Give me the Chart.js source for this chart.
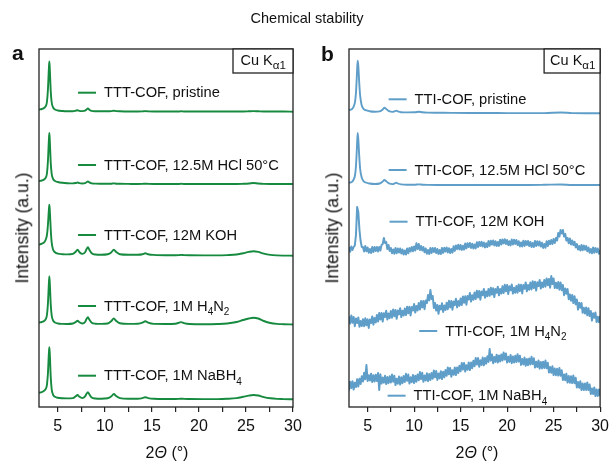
<!DOCTYPE html>
<html>
<head>
<meta charset="utf-8">
<script src="https://cdn.jsdelivr.net/npm/chart.js@4.4.1/dist/chart.umd.min.js"></script>
<style>
  body { margin: 0; background: #fff; font-family: "Liberation Sans", Arial, sans-serif; color: #111; }
  #wrap { position: relative; width: 614px; height: 461px; overflow: hidden; }
  #wrap canvas { position: absolute; top: 0; }
  .txt { position: absolute; line-height: 1; white-space: nowrap; transform: translate(-50%, -50%); }
  .ytitle { font-size: 17.5px; transform: translate(-50%, -50%) rotate(-90deg); }
  .xtitle { font-size: 16px; }
  .letter { position: absolute; font-size: 21px; font-weight: bold; line-height: 1; }
</style>
</head>
<body>
<div id="wrap">
  <canvas id="chart-a" width="307" height="461" style="left:0"></canvas>
  <canvas id="chart-b" width="307" height="461" style="left:307px"></canvas>
  <div class="txt" style="left:307px;top:18px;font-size:14.5px">Chemical stability</div>
  <div class="letter" style="left:12px;top:42px">a</div>
  <div class="letter" style="left:321px;top:43px">b</div>
  <div class="txt ytitle" style="left:22.5px;top:228px">Intensity (a.u.)</div>
  <div class="txt ytitle" style="left:332.5px;top:228px">Intensity (a.u.)</div>
  <div class="txt xtitle" style="left:167px;top:453px">2<i>Θ</i> (°)</div>
  <div class="txt xtitle" style="left:477px;top:453px">2<i>Θ</i> (°)</div>
</div>
<script>
const GREEN = '#168a3e';
const BLUE  = '#5f9ec8';
const FONT  = '"Liberation Sans", Arial, sans-serif';

const TICKS_X = [5, 7.5, 10, 12.5, 15, 17.5, 20, 22.5, 25, 27.5, 30];

// panel a: TTT-COF, intensity above each trace's own baseline
const LABELS_A = ['TTT-COF, pristine', 'TTT-COF, 12.5M HCl 50°C', 'TTT-COF, 12M KOH', 'TTT-COF, 1M H_4N_2', 'TTT-COF, 1M NaBH_4'];
const OFFSET_A = [295.5, 223, 151.3, 82.5, 7.7];
const X_A = [3, 3.3, 3.6, 3.75, 3.85, 3.95, 4.05, 4.1, 4.15, 4.25,
  4.35, 4.5, 4.7, 5, 5.5, 6, 6.6, 6.9, 7.1, 7.3,
  7.6, 7.9, 8.05, 8.2, 8.35, 8.6, 9, 9.6, 10.3, 10.7,
  10.95, 11.2, 11.6, 12.5, 13.5, 14, 14.3, 14.6, 15.2, 16.5,
  17.5, 17.9, 18.1, 18.4, 19, 20.5, 22, 23, 24, 24.7,
  25.3, 25.8, 26.3, 26.9, 27.6, 28.3, 29, 30];
const A_PRISTINE = [2, 2.5, 4, 6, 10, 22, 43, 50, 42, 20,
  9, 4, 2, 1, 0.5, 0.3, 0.3, 0.8, 1.2, 0.6,
  0.4, 0.8, 2, 3, 1.8, 0.6, 0.3, 0.2, 0.2, 0.4,
  0.8, 0.4, 0.2, 0, 0, 0.1, 0.4, 0.1, 0, 0,
  0, 0, 0.2, 0, 0, 0, 0, 0, 0, 0,
  0.2, 0.4, 0.2, 0, 0, 0, 0, -0.2];
const A_HCL = [3, 3.5, 5, 7, 11, 23, 44, 51, 43, 21,
  10, 5, 3, 2, 1.2, 0.8, 0.6, 1, 1.5, 0.8,
  0.5, 0.8, 1.8, 2.6, 1.6, 0.6, 0.4, 0.3, 0.2, 0.3,
  0.6, 0.3, 0.2, 0.1, 0, 0.1, 0.3, 0.1, 0, 0,
  0, 0, 0.2, 0, 0, 0, 0, 0, 0, 0.2,
  0.5, 1, 0.5, 0.1, 0, 0, 0, 0];
const A_KOH = [11, 12, 14, 17, 21, 31, 46, 51, 45, 26,
  13, 6, 3.5, 2, 1.5, 1.3, 1.8, 4, 6, 3.5,
  1.8, 3.5, 6.5, 8.4, 6, 2.5, 1.2, 1, 1.5, 3.5,
  6, 3.8, 1.5, 1, 1, 1.5, 2.4, 1.5, 0.8, 0.5,
  0.5, 0.6, 0.8, 0.6, 0.4, 0.3, 0.3, 0.6, 1.2, 2.4,
  3.8, 4.5, 3.8, 2, 0.8, 0.3, 0.1, 0];
const A_H4N2 = [2, 2.5, 4, 6, 10, 21, 41, 48, 41, 20,
  9, 4, 2, 1, 0.6, 0.5, 1, 2.5, 3.8, 2.2,
  1, 2.5, 5.5, 7.2, 5, 1.8, 0.8, 0.6, 1, 3.5,
  6, 3.6, 1.2, 0.6, 0.8, 1.8, 3.2, 1.8, 0.6, 0.5,
  0.8, 1.8, 2.4, 1.4, 0.5, 0.3, 0.5, 1, 2.5, 4.5,
  6, 6.7, 6, 3.5, 1.5, 0.6, 0.3, 0];
const A_NABH4 = [6.6, 7.2, 9, 11, 15, 26, 46, 52, 45, 22,
  10, 4.5, 2.5, 1.5, 1, 0.9, 1.2, 3, 4.3, 2.5,
  1.2, 3, 5.5, 7, 5, 1.8, 0.8, 0.6, 1, 3,
  5.3, 3.2, 1.2, 0.6, 0.6, 1.2, 2, 1.2, 0.5, 0.3,
  0.3, 0.4, 0.6, 0.4, 0.3, 0.2, 0.2, 0.5, 1.2, 2.5,
  3.7, 4.3, 3.8, 2.2, 1, 0.4, 0.2, 0];

// panel b: TTI-COF
const LABELS_B = ['TTI-COF, pristine', 'TTI-COF, 12.5M HCl 50°C', 'TTI-COF, 12M KOH', 'TTI-COF, 1M H_4N_2', 'TTI-COF, 1M NaBH_4'];
const OFFSET_B = [294.3, 222, 152, 82, 8];
const X_B = [3, 3.3, 3.5, 3.65, 3.75, 3.85, 3.93, 4, 4.1, 4.2,
  4.35, 4.55, 4.8, 5.2, 5.8, 6.3, 6.6, 6.8, 7, 7.3,
  7.7, 7.95, 8.1, 8.25, 8.6, 9.3, 10.1, 10.5, 10.9, 11.5,
  12.5, 14, 16, 18, 20, 22, 24, 25.8, 27, 28.5, 30];
const B_PRISTINE = [2.7, 3.5, 6, 11, 20, 38, 52, 47, 30, 17,
  8, 4, 2.5, 1.5, 1, 1.3, 3, 5, 3.8, 1.5,
  0.8, 1.5, 2, 1.3, 0.5, 0.3, 0.4, 1, 0.4, 0.1,
  0, -0.2, -0.3, -0.3, -0.4, -0.4, -0.4, 0.2, -0.4, -0.5, -0.5];
const B_HCL = [2.3, 3, 5.5, 10, 19, 37, 52, 46, 29, 16,
  8, 4, 2.5, 1.5, 1, 1.5, 3.2, 5, 3.8, 1.6,
  0.9, 1.8, 2.3, 1.5, 0.6, 0.3, 0.3, 0.6, 0.3, 0.1,
  0, 0, 0, 0, 0, 0, 0.2, 0.5, 0, 0, 0];

// noisy scans, one row per degree
const X_DENSE_B = [
  3, 3.125, 3.25, 3.375, 3.5, 3.625, 3.75, 3.875,
  4, 4.125, 4.25, 4.375, 4.5, 4.625, 4.75, 4.875,
  5, 5.125, 5.25, 5.375, 5.5, 5.625, 5.75, 5.875,
  6, 6.125, 6.25, 6.375, 6.5, 6.625, 6.75, 6.875,
  7, 7.125, 7.25, 7.375, 7.5, 7.625, 7.75, 7.875,
  8, 8.125, 8.25, 8.375, 8.5, 8.625, 8.75, 8.875,
  9, 9.125, 9.25, 9.375, 9.5, 9.625, 9.75, 9.875,
  10, 10.125, 10.25, 10.375, 10.5, 10.625, 10.75, 10.875,
  11, 11.125, 11.25, 11.375, 11.5, 11.625, 11.75, 11.875,
  12, 12.125, 12.25, 12.375, 12.5, 12.625, 12.75, 12.875,
  13, 13.125, 13.25, 13.375, 13.5, 13.625, 13.75, 13.875,
  14, 14.125, 14.25, 14.375, 14.5, 14.625, 14.75, 14.875,
  15, 15.125, 15.25, 15.375, 15.5, 15.625, 15.75, 15.875,
  16, 16.125, 16.25, 16.375, 16.5, 16.625, 16.75, 16.875,
  17, 17.125, 17.25, 17.375, 17.5, 17.625, 17.75, 17.875,
  18, 18.125, 18.25, 18.375, 18.5, 18.625, 18.75, 18.875,
  19, 19.125, 19.25, 19.375, 19.5, 19.625, 19.75, 19.875,
  20, 20.125, 20.25, 20.375, 20.5, 20.625, 20.75, 20.875,
  21, 21.125, 21.25, 21.375, 21.5, 21.625, 21.75, 21.875,
  22, 22.125, 22.25, 22.375, 22.5, 22.625, 22.75, 22.875,
  23, 23.125, 23.25, 23.375, 23.5, 23.625, 23.75, 23.875,
  24, 24.125, 24.25, 24.375, 24.5, 24.625, 24.75, 24.875,
  25, 25.125, 25.25, 25.375, 25.5, 25.625, 25.75, 25.875,
  26, 26.125, 26.25, 26.375, 26.5, 26.625, 26.75, 26.875,
  27, 27.125, 27.25, 27.375, 27.5, 27.625, 27.75, 27.875,
  28, 28.125, 28.25, 28.375, 28.5, 28.625, 28.75, 28.875,
  29, 29.125, 29.25, 29.375, 29.5, 29.625, 29.75, 29.875,
  30];
const B_KOH = [
  8, 3.2, 8.5, 5, 8, 9.5, 20, 48,
  43, 25, 14, 8, 8, 3.5, 9, 3.7,
  7.5, 2.2, 6, 2, 8, 3, 8, 4,
  8, 3.5, 8, 4.5, 10, 11, 17, 12,
  13, 6, 10, 4, 7, 1.8, 5.5, 1.2,
  7, 1.8, 6.5, 2.5, 6.5, 1.5, 5.5, 0.5,
  4.5, 0.5, 6.5, 1.8, 7, 3.5, 8, 3.8,
  8.5, 4.5, 11.8, 6, 11, 5, 9, 4.5,
  8, 2.8, 6.5, 1.3, 5, 1, 7, 2,
  7, 3, 7, 2, 6, 1, 5, 1,
  7, 2.1, 7.3, 3.4, 7.5, 2.6, 6.8, 1.9,
  6, 2.4, 8.8, 4.1, 9.5, 5.9, 10.3, 5.6,
  10, 5.1, 9.3, 5.4, 11.5, 6.6, 11.8, 7.9,
  12, 7.1, 11.3, 6.4, 10.5, 6.6, 12.8, 7.9,
  13, 9.1, 13.3, 8.4, 12.5, 7.6, 11.8, 7.9,
  14, 9.1, 14.3, 10.4, 14.5, 9.6, 13.8, 8.9,
  13, 9.1, 15.3, 10.4, 15.5, 11.6, 15.8, 10.9,
  15, 9.9, 13.8, 9.6, 15.5, 10.4, 15.3, 11.1,
  15, 9.9, 13.8, 8.6, 12.5, 8.4, 14.3, 9.1,
  14, 10, 14, 9, 13, 8, 12, 8,
  14, 8.9, 13.8, 9.6, 13.5, 8.4, 12.3, 7.1,
  11, 7.3, 13.7, 9, 14.3, 10.7, 15, 11,
  16, 12, 17, 14.5, 22, 18.5, 25, 21.5,
  25, 18.5, 21, 14.5, 17, 11.8, 16.5, 10.5,
  14.5, 9.9, 13.3, 7.6, 11, 5.5, 9, 4.5,
  10, 4.8, 9.5, 5.3, 9, 3.8, 7.5, 2.3,
  6, 1.8, 7.5, 2.3, 7, 2.8, 6.5, 1.3,
  5];
const B_H4N2 = [
  8.5, 1.5, 9.5, 2.3, 8, -1.2, 6.5, 2,
  7.5, -1.7, 4, -1.1, 5.8, -1.2, 6.7, -0.3,
  5.7, -2.9, 5.5, 2, 8.5, 0.3, 7, 2.5,
  10, 3.5, 12, 5.5, 12, 3.4, 11.8, 8,
  14.2, 5.4, 11.6, 6.8, 14, 7.3, 15.5, 8.8,
  15, 6.2, 14.4, 10.6, 16.8, 8, 14.2, 9.4,
  16.5, 9.9, 18.3, 11.8, 18.2, 9.6, 18, 14.5,
  21, 12.5, 19, 14.5, 22, 15.5, 24, 17.5,
  24, 15.8, 24.5, 22, 30, 24.5, 35, 26,
  29, 17, 22, 14.5, 20, 11.2, 19.3, 15.5,
  21.7, 13.1, 19.5, 14.9, 22.3, 15.8, 24.2, 17.6,
  24, 15.3, 23.6, 19.9, 26.2, 17.6, 23.9, 19.2,
  26.5, 20, 28.6, 22.2, 28.8, 20.3, 28.9, 25.5,
  32, 23.4, 29.8, 25.2, 32.5, 25.9, 34.3, 27.6,
  34, 25.3, 33.5, 29.8, 36, 27.3, 33.5, 28.8,
  36, 29.2, 37.3, 30.5, 36.7, 27.9, 36, 32.2,
  38.3, 29.7, 36, 31.4, 38.7, 32, 40.3, 33.7,
  40, 30.9, 38.8, 34.7, 40.5, 31.4, 37.3, 32.2,
  39, 32.3, 40.6, 34, 40.3, 31.6, 39.9, 36.2,
  42.5, 33.7, 39.9, 35.2, 42.4, 35.6, 43.8, 37,
  43.2, 34.5, 42.7, 38.9, 45.1, 36.4, 42.6, 37.8,
  45, 38.3, 46.5, 39.8, 46, 37.3, 49, 41,
  46.5, 36.9, 42.3, 36.7, 43, 35.3, 42.5, 34.8,
  40, 29.8, 36.5, 31.3, 36, 25.8, 30.5, 24.3,
  30, 21.9, 28.8, 20.7, 25.5, 15.4, 22.3, 17.2,
  22, 12.2, 17.3, 11.4, 17.5, 9.7, 16.8, 8.9,
  14, 4.4, 11.8, 7.2, 12.5, 2.9, 8.3, 2.7,
  9];
const B_NABH4 = [
  8.5, 17.3, 11, 17.8, 9.5, 16.3, 12, 19.8,
  12.5, 20.3, 15, 22.8, 17.5, 26.2, 19.8, 34,
  18, 23.8, 18.5, 25.3, 17, 23.8, 17.5, 24.3,
  18, 25.9, 9, 24.7, 15.5, 21.4, 16.3, 23.2,
  15, 21.9, 15.8, 22.7, 16.5, 24.4, 17.3, 23.2,
  14, 20.2, 15.3, 22.4, 14.5, 21.7, 15.8, 22.9,
  17, 25.2, 18.3, 24.4, 15.5, 21.7, 16.8, 23.9,
  16, 23.2, 17.3, 24.5, 18.7, 26.9, 20, 26.2,
  17.3, 23.4, 18.5, 25.7, 17.8, 24.9, 19, 26.1,
  20.2, 28.5, 21.7, 27.9, 19.1, 25.4, 20.6, 27.8,
  20, 27.3, 21.6, 28.9, 23.2, 31.5, 24.7, 31,
  22.3, 28.8, 24.2, 31.6, 24, 31.5, 25.9, 33.3,
  27.7, 36.1, 29.5, 36, 27.4, 33.8, 29.2, 36.6,
  29, 36.4, 30.8, 38.3, 32.7, 41.1, 34.5, 40.9,
  32.3, 38.7, 34, 41.4, 33.7, 41, 35.3, 42.7,
  37, 50, 38.4, 44.6, 35.8, 42, 37.1, 44.3,
  36.5, 43.5, 37.5, 44.5, 38.5, 46.5, 39.5, 45.5,
  36.5, 42.3, 37.1, 44, 35.8, 42.6, 36.4, 43.2,
  37, 44.8, 37.5, 43.3, 34.1, 39.9, 34.6, 41.4,
  33.2, 40, 33.8, 40.6, 34.4, 42.2, 34.9, 40.7,
  31.5, 37.2, 31.9, 38.6, 30.3, 37, 30.6, 37.3,
  31, 38.4, 30.8, 36.2, 26.5, 31.9, 26.3, 32.7,
  24, 30.4, 23.8, 30.2, 23.5, 30.9, 23.3, 28.7,
  19, 24.4, 18.8, 25.2, 16.5, 22.9, 16.3, 22.7,
  16, 23.4, 15.8, 21.2, 11.5, 16.9, 11.3, 17.7,
  9, 15.5, 9, 15.5, 9, 16.5, 9, 14.5,
  5, 10.5, 5, 11.5, 3, 9.5, 3, 9.5,
  3];

// where each legend entry sits (x in degrees, y in axis units)
const LABEL_POS_A = [[7.15, 314.3], [7.15, 242], [7.15, 172], [7.15, 101], [7.15, 31.3]];
const LABEL_POS_B = [[7.26, 307.7], [7.26, 237], [7.36, 185.3], [10.55, 76], [7.15, 11.3]];

function drawRich(ctx, text, x, y, size, subScale = 0.68) {
  // "_c" marks a subscript character
  const parts = text.split(/_(\S)/);
  parts.forEach((p, i) => {
    const sub = i % 2 === 1;
    ctx.font = `${sub ? size * subScale : size}px ${FONT}`;
    ctx.fillText(p, x, y + (sub ? size * 0.3 : 0));
    x += ctx.measureText(p).width;
  });
}

const panelDecor = {
  id: 'panelDecor',
  afterDatasetsDraw(chart, args, opts) {
    const { ctx, chartArea: a, scales: { x, y } } = chart;
    ctx.save();
    ctx.strokeStyle = '#222';
    ctx.lineWidth = 1.3;
    ctx.strokeRect(a.left, a.top, a.right - a.left, a.bottom - a.top);

    const bx = a.right - opts.boxW;
    ctx.fillStyle = '#fff';
    ctx.fillRect(bx, a.top, opts.boxW, 24);
    ctx.strokeRect(bx, a.top, opts.boxW, 24);
    ctx.fillStyle = '#111';
    ctx.textBaseline = 'alphabetic';
    drawRich(ctx, 'Cu K_α_1', bx + opts.boxPad, a.top + 16, 14.5, 0.8);

    chart.data.datasets.forEach(ds => {
      const px = x.getPixelForValue(ds.labelX);
      const py = y.getPixelForValue(ds.labelY);
      ctx.strokeStyle = ds.borderColor;
      ctx.lineWidth = 2;
      ctx.beginPath();
      ctx.moveTo(px, py);
      ctx.lineTo(px + 18, py);
      ctx.stroke();
      ctx.fillStyle = '#111';
      drawRich(ctx, ds.label, px + 26, py + 4.5, 14.7);
    });
    ctx.restore();
  }
};

function trace(label, xs, ys, offset, pos, color, width, smooth) {
  return {
    label,
    data: xs.map((v, i) => ({ x: v, y: ys[i] + offset })),
    borderColor: color,
    borderWidth: width,
    borderJoinStyle: 'round',
    pointRadius: 0,
    fill: false,
    cubicInterpolationMode: smooth ? 'monotone' : 'default',
    tension: 0,
    labelX: pos[0],
    labelY: pos[1],
  };
}

function makeChart(id, datasets, pad, boxW, boxPad) {
  return new Chart(document.getElementById(id), {
    type: 'line',
    data: { datasets },
    options: {
      responsive: false,
      animation: false,
      layout: { padding: pad },
      plugins: {
        legend: { display: false },
        tooltip: { enabled: false },
        panelDecor: { boxW, boxPad },
      },
      scales: {
        x: {
          type: 'linear', min: 3, max: 30,
          afterBuildTicks: s => { s.ticks = TICKS_X.map(v => ({ value: v })); },
          afterFit: s => { s.height = 54; },
          grid: { drawOnChartArea: false, drawTicks: true, tickLength: 5, color: '#222', lineWidth: 1.2 },
          border: { display: false },
          ticks: {
            color: '#111', padding: 5, maxRotation: 0, autoSkip: false,
            font: { size: 16, family: FONT },
            callback: v => (v % 5 === 0 ? v : ''),
          },
        },
        y: { display: false, min: 0, max: 358 },
      },
    },
    plugins: [panelDecor],
  });
}

const A_VALUES = [A_PRISTINE, A_HCL, A_KOH, A_H4N2, A_NABH4];
makeChart('chart-a',
  A_VALUES.map((ys, i) => trace(LABELS_A[i], X_A, ys, OFFSET_A[i], LABEL_POS_A[i], GREEN, 1.9, true)),
  { left: 39, right: 14, top: 49, bottom: 0 }, 60, 7.5);

makeChart('chart-b', [
  trace(LABELS_B[0], X_B, B_PRISTINE, OFFSET_B[0], LABEL_POS_B[0], BLUE, 1.9, true),
  trace(LABELS_B[1], X_B, B_HCL, OFFSET_B[1], LABEL_POS_B[1], BLUE, 1.9, true),
  trace(LABELS_B[2], X_DENSE_B, B_KOH, OFFSET_B[2], LABEL_POS_B[2], BLUE, 2, false),
  trace(LABELS_B[3], X_DENSE_B, B_H4N2, OFFSET_B[3], LABEL_POS_B[3], BLUE, 2, false),
  trace(LABELS_B[4], X_DENSE_B, B_NABH4, OFFSET_B[4], LABEL_POS_B[4], BLUE, 2, false),
], { left: 42, right: 11, top: 49, bottom: 0 }, 56, 6);
</script>
</body>
</html>
